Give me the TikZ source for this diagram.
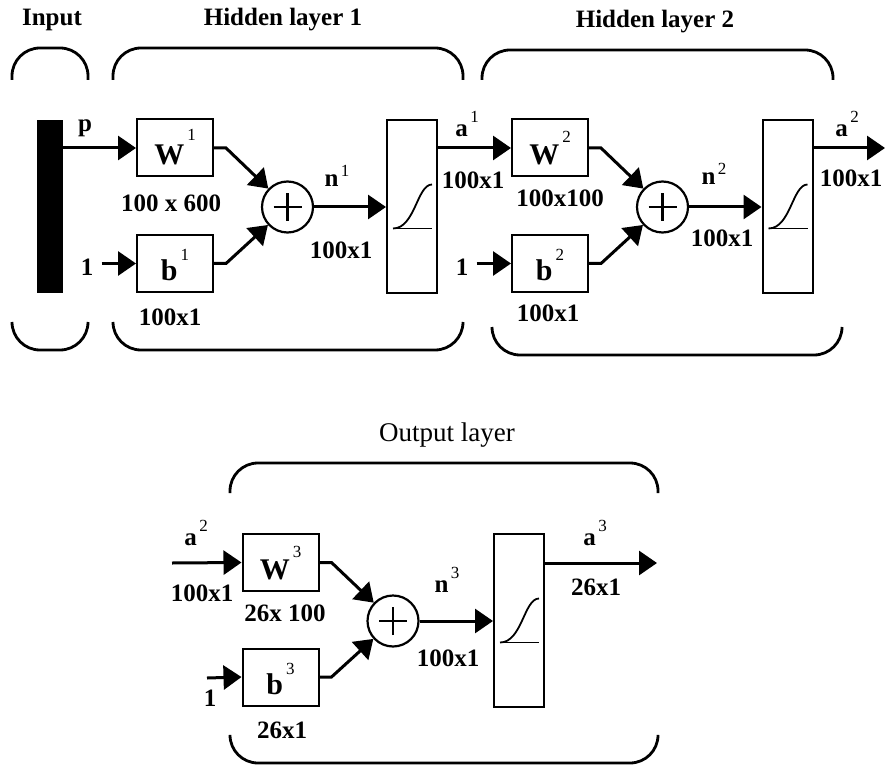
\documentclass[tikz,border=0pt]{standalone}
\usepackage{fontspec}
\setmainfont{Liberation Serif}
\usetikzlibrary{arrows.meta}
\newcommand{\lsup}[2][8pt]{\hspace{0.1em}\raisebox{#1}{\fontsize{8.5}{8.5}\selectfont\mdseries #2}}

\begin{document}
\begin{tikzpicture}[x=0.5pt, y=-0.5pt,
  wbox/.style={draw, line width=1pt, minimum width=38pt, minimum height=28.5pt,
               inner sep=0pt, text height=17pt, text depth=0pt,
               font=\fontsize{15}{15}\selectfont\bfseries},
  sigbox/.style={draw, line width=1pt, minimum width=25pt, minimum height=86.5pt},
  sumnode/.style={circle, draw, line width=1.1pt, minimum size=25.5pt, inner sep=0pt},
  lab/.style={inner sep=0pt, font=\fontsize{12.5}{13}\selectfont\bfseries},
  head/.style={inner sep=0pt, font=\fontsize{12.5}{13}\selectfont\bfseries},
  arr/.style={line width=1.5pt, -{Triangle[length=9pt, width=12pt]}},
  brk/.style={line width=1.4pt, rounded corners=14pt}
]
  \useasboundingbox (0,0) rectangle (886,769);

  % Input
  \node[head] (hin) at (52,20) {Input};
  \draw[brk] (12,80) -- (12,48) -- (88,48) -- (88,80);
  \draw[brk] (12,322) -- (12,350) -- (88,350) -- (88,322);
  \node[fill=black, minimum width=13pt, minimum height=86.5pt, inner sep=0pt] (inbar) at (50,206.5) {};
  \node[lab, anchor=base] (lp) at (85,132) {p};

  % Hidden layer 1
  \node[head] (hl1) at (283,20) {Hidden layer 1};
  \draw[brk] (113,80) -- (113,48) -- (463,48) -- (463,80);
  \draw[brk] (113,322) -- (113,350) -- (463,350) -- (463,322);
  \node[wbox] (w1) at (175,148) {W\lsup[12pt]{1}};
  \node[wbox] (b1) at (175,263.5) {b\lsup[10pt]{1}};
  \node[lab] (dw1) at (171,203) {100 x 600};
  \node[lab] (db1) at (170,317) {100x1};
  \node[lab] (one1) at (87,267) {1};
  \node[sumnode] (sum1) at (287.5,207) {};
  \node[lab, anchor=base] (ln1) at (337,187) {n\lsup[5pt]{1}};
  \node[lab] (dn1) at (341,250) {100x1};
  \node[sigbox] (sig1) at (412,206.5) {};

  % Hidden layer 2
  \node[head] (hl2) at (655,22) {Hidden layer 2};
  \draw[brk] (482,80) -- (482,50) -- (833,50) -- (833,80);
  \draw[brk] (492,327) -- (492,355) -- (842,355) -- (842,327);
  \node[lab, anchor=base] (la1) at (467,137) {a\lsup[7pt]{1}};
  \node[lab] (da1) at (473,180) {100x1};
  \node[wbox] (w2) at (550,148) {W\lsup[11pt]{2}};
  \node[wbox] (b2) at (550,263.5) {b\lsup[10pt]{2}};
  \node[lab] (dw2) at (560,198) {100x100};
  \node[lab] (db2) at (548,313) {100x1};
  \node[lab] (one2) at (462,267) {1};
  \node[sumnode] (sum2) at (662.5,207) {};
  \node[lab, anchor=base] (ln2) at (714,185) {n\lsup[5pt]{2}};
  \node[lab] (dn2) at (722,238) {100x1};
  \node[sigbox] (sig2) at (787.5,206.5) {};
  \node[lab, anchor=base] (la2) at (847,137) {a\lsup[7pt]{2}};
  \node[lab] (da2) at (851,178) {100x1};
  \coordinate (out2) at (885,148);

  % Output layer
  \node[head, font=\fontsize{13.5}{14}\selectfont] (hout) at (447,435) {Output layer};
  \draw[brk] (230,493) -- (230,463) -- (658,463) -- (658,493);
  \draw[brk] (230,737) -- (230,763) -- (658,763) -- (658,737);
  \coordinate (in3) at (172,563);
  \node[lab, anchor=base] (la2b) at (196,545) {a\lsup[7pt]{2}};
  \node[lab] (da2b) at (202,593) {100x1};
  \node[wbox] (w3) at (280.5,562.5) {W\lsup[11pt]{3}};
  \node[wbox] (b3) at (280.5,677) {b\lsup[10pt]{3}};
  \node[lab] (dw3) at (285,613) {26x 100};
  \node[lab] (db3) at (282,730) {26x1};
  \coordinate (in3b) at (207,678);
  \node[lab] (one3) at (210,698) {1};
  \node[sumnode] (sum3) at (393,621) {};
  \node[lab, anchor=base] (ln3) at (447,592) {n\lsup[7pt]{3}};
  \node[lab] (dn3) at (448,658) {100x1};
  \node[sigbox] (sig3) at (519,620.5) {};
  \node[lab, anchor=base] (la3) at (595,545) {a\lsup[7pt]{3}};
  \node[lab] (da3) at (596,587) {26x1};
  \coordinate (out3) at (657,563);

  % plus signs and transfer curves
  \foreach \i in {1,2,3} {
    \draw[line width=1.2pt] ([xshift=-7pt]sum\i.center) -- ([xshift=7pt]sum\i.center)
      ([yshift=-7pt]sum\i.center) -- ([yshift=7pt]sum\i.center);
    \draw[line width=0.9pt] ([shift={(-19,22)}]sig\i.center) -- ([shift={(20,22)}]sig\i.center);
    \draw[line width=0.9pt] ([shift={(-19,22)}]sig\i.center)
      .. controls ([shift={(3,22)}]sig\i.center) and ([shift={(5,-22)}]sig\i.center)
      .. ([shift={(20,-22)}]sig\i.center);
  }

  % Connectors
  \draw[arr] (inbar.east |- w1.west) -- (w1.west);
  \draw[arr] ([xshift=4pt]one1.east |- b1.west) -- (b1.west);
  \draw[arr] (w1.east) -- ++(12,0) -- (sum1);
  \draw[arr] (b1.east) -- ++(12,0) -- (sum1);
  \draw[arr] (sum1.east) -- (sum1.east -| sig1.west);
  \draw[arr] (sig1.east |- w2.west) -- (w2.west);
  \draw[arr] ([xshift=4pt]one2.east |- b2.west) -- (b2.west);
  \draw[arr] (w2.east) -- ++(12,0) -- (sum2);
  \draw[arr] (b2.east) -- ++(12,0) -- (sum2);
  \draw[arr] (sum2.east) -- (sum2.east -| sig2.west);
  \draw[arr] (sig2.east |- out2) -- (out2);
  \draw[arr] (in3) -- (w3.west);
  \draw[arr] (in3b) -- (b3.west);
  \draw[arr] (w3.east) -- ++(12,0) -- (sum3);
  \draw[arr] (b3.east) -- ++(12,0) -- (sum3);
  \draw[arr] (sum3.east) -- (sum3.east -| sig3.west);
  \draw[arr] (sig3.east |- out3) -- (out3);
\end{tikzpicture}
\end{document}
